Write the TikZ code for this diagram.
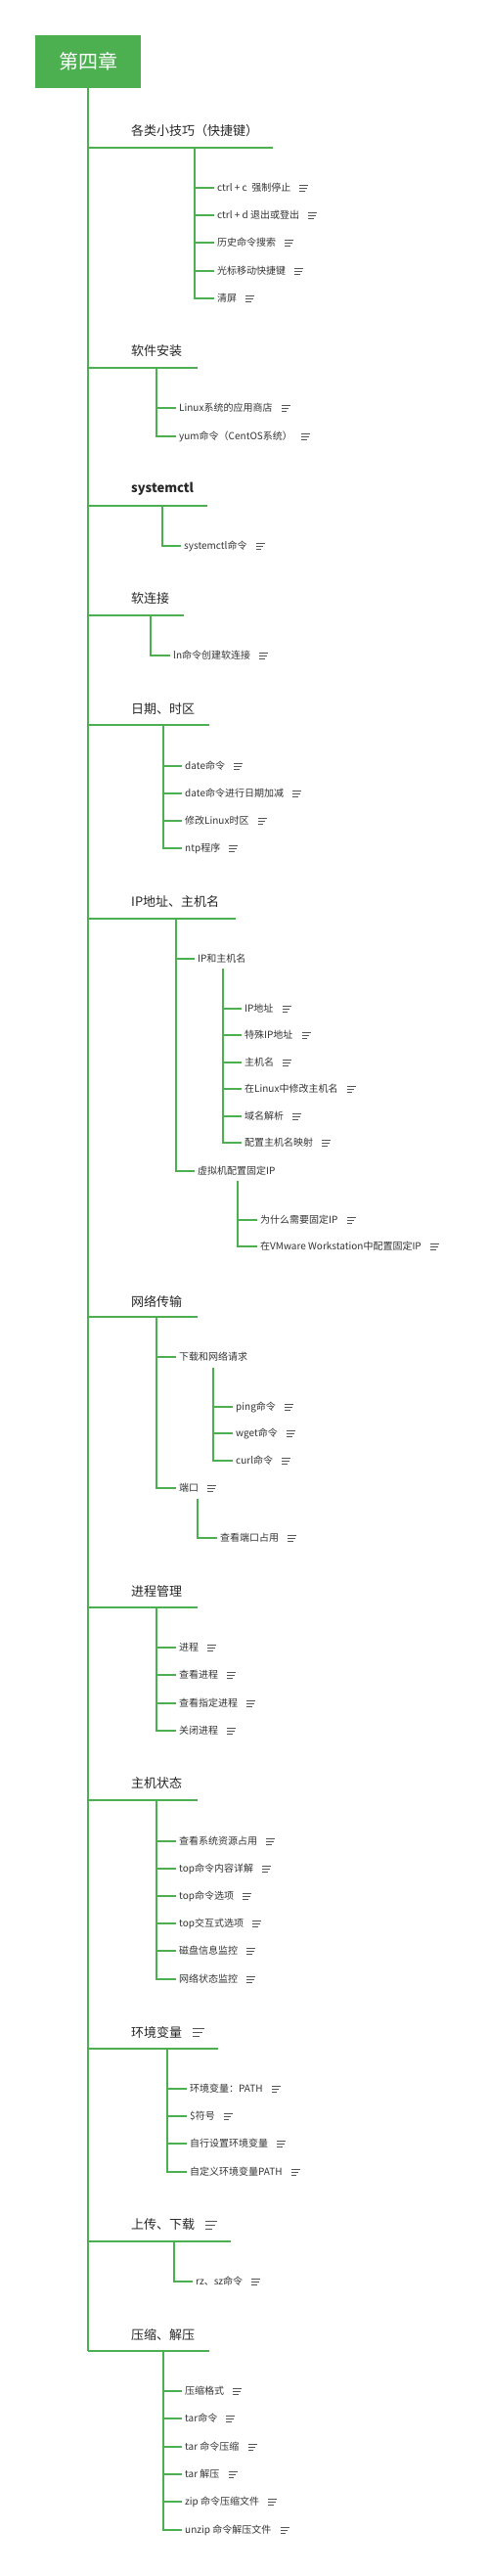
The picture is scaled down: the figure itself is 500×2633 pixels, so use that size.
\documentclass[tikz,border=0pt]{standalone}
\usepackage{fontspec}
\setmainfont{Noto Sans CJK SC}
\usepackage{xcolor}
\usepackage{tikz}
\usetikzlibrary{positioning,calc}

\definecolor{mapgreen}{RGB}{76,175,80}
\definecolor{ink}{RGB}{51,51,51}
\definecolor{iconink}{RGB}{85,85,85}

\tikzset{
    root/.style={fill=mapgreen, text=white, minimum width=108pt, minimum height=54pt, inner sep=0pt, font=\fontsize{20}{24}\selectfont},
    topic/.style={anchor=west, inner sep=3pt, text=black!85, font=\fontsize{13}{15}\selectfont},
    leaf/.style={anchor=west, inner sep=3pt, text=ink, font=\fontsize{10}{12}\selectfont},
    trunk/.style={draw=mapgreen, line width=2pt},
    twig/.style={draw=mapgreen, line width=1.2pt},
    memoline/.style={draw=iconink, line width=0.8pt}
}

% note icon behind a node
\newcommand{\memo}[2][1]{%
    \draw[memoline] ([xshift=6pt*#1,yshift=3pt*#1]#2.east) -- ++(9*#1,0)
        ([xshift=6pt*#1]#2.east) -- ++(7.5*#1,0)
        ([xshift=6pt*#1,yshift=-3pt*#1]#2.east) -- ++(5.5*#1,0);}

\begin{document}
\begin{tikzpicture}[x=1pt,y=-1pt]
    \useasboundingbox (0,0) rectangle (500,2633);

    \node[root] (root) at (90,63) {第四章};
    \coordinate (b12) at (90,2403);
    \draw[trunk] (root.south) -- (b12);

    % 各类小技巧
    \node[topic] (t1) at (131,134) {各类小技巧（快捷键）};
    \coordinate (b1) at (90,151);
    \coordinate (g1) at (199,151);
    \draw[trunk] (b1) -- ++(189,0);
    \foreach \y/\t in {192/{ctrl + c\ \ 强制停止}, 220/{ctrl + d 退出或登出}, 248/历史命令搜索, 277/光标移动快捷键, 305/清屏}{
        \node[leaf] (a\y) at (219,\y) {\t};
        \memo{a\y}
        \draw[twig] (g1) |- (a\y.west);
    }

    % 软件安装
    \node[topic] (t2) at (131,359) {软件安装};
    \coordinate (b2) at (90,376);
    \coordinate (g2) at (160,376);
    \draw[trunk] (b2) -- ++(112,0);
    \foreach \y/\t in {417/Linux系统的应用商店, 446/yum命令（CentOS系统）}{
        \node[leaf] (a\y) at (180,\y) {\t};
        \memo{a\y}
        \draw[twig] (g2) |- (a\y.west);
    }

    % systemctl
    \node[topic, font=\fontsize{13}{15}\selectfont\bfseries] (t3) at (131,500) {systemctl};
    \coordinate (b3) at (90,517);
    \coordinate (g3) at (166,517);
    \draw[trunk] (b3) -- ++(122,0);
    \node[leaf] (a558) at (185,558) {systemctl命令};
    \memo{a558}
    \draw[twig] (g3) |- (a558.west);

    % 软连接
    \node[topic] (t4) at (131,612) {软连接};
    \coordinate (b4) at (90,629);
    \coordinate (g4) at (154,629);
    \draw[trunk] (b4) -- ++(98,0);
    \node[leaf] (a670) at (174,670) {ln命令创建软连接};
    \memo{a670}
    \draw[twig] (g4) |- (a670.west);

    % 日期、时区
    \node[topic] (t5) at (131,725) {日期、时区};
    \coordinate (b5) at (90,741);
    \coordinate (g5) at (167,741);
    \draw[trunk] (b5) -- ++(124,0);
    \foreach \y/\t in {783/date命令, 811/date命令进行日期加减, 839/修改Linux时区, 867/ntp程序}{
        \node[leaf] (a\y) at (186,\y) {\t};
        \memo{a\y}
        \draw[twig] (g5) |- (a\y.west);
    }

    % IP地址、主机名
    \node[topic] (t6) at (131,922) {IP地址、主机名};
    \coordinate (b6) at (90,939);
    \coordinate (g6) at (180,939);
    \draw[trunk] (b6) -- ++(151,0);
    \node[leaf] (ipn) at (199,980) {IP和主机名};
    \node[leaf] (vmip) at (199,1197) {虚拟机配置固定IP};
    \draw[twig] (g6) |- (ipn.west);
    \draw[twig] (g6) |- (vmip.west);
    \coordinate (g61) at (228,990);
    \foreach \y/\t in {1031/IP地址, 1058/特殊IP地址, 1086/主机名, 1113/在Linux中修改主机名, 1141/域名解析, 1168/配置主机名映射}{
        \node[leaf] (a\y) at (247,\y) {\t};
        \memo{a\y}
        \draw[twig] (g61) |- (a\y.west);
    }
    \coordinate (g62) at (243,1207);
    \foreach \y/\t in {1247/为什么需要固定IP, 1274/在VMware Workstation中配置固定IP}{
        \node[leaf] (a\y) at (263,\y) {\t};
        \memo{a\y}
        \draw[twig] (g62) |- (a\y.west);
    }

    % 网络传输
    \node[topic] (t7) at (131,1330) {网络传输};
    \coordinate (b7) at (90,1346);
    \coordinate (g7) at (160,1346);
    \draw[trunk] (b7) -- ++(112,0);
    \node[leaf] (dl) at (180,1387) {下载和网络请求};
    \node[leaf] (port) at (180,1521) {端口};
    \memo{port}
    \draw[twig] (g7) |- (dl.west);
    \draw[twig] (g7) |- (port.west);
    \coordinate (g71) at (218,1398);
    \foreach \y/\t in {1438/ping命令, 1465/wget命令, 1493/curl命令}{
        \node[leaf] (a\y) at (238,\y) {\t};
        \memo{a\y}
        \draw[twig] (g71) |- (a\y.west);
    }
    \coordinate (g72) at (202,1532);
    \node[leaf] (a1572) at (222,1572) {查看端口占用};
    \memo{a1572}
    \draw[twig] (g72) |- (a1572.west);

    % 进程管理
    \node[topic] (t8) at (131,1627) {进程管理};
    \coordinate (b8) at (90,1643);
    \coordinate (g8) at (160,1643);
    \draw[trunk] (b8) -- ++(112,0);
    \foreach \y/\t in {1684/进程, 1712/查看进程, 1741/查看指定进程, 1769/关闭进程}{
        \node[leaf] (a\y) at (180,\y) {\t};
        \memo{a\y}
        \draw[twig] (g8) |- (a\y.west);
    }

    % 主机状态
    \node[topic] (t9) at (131,1823) {主机状态};
    \coordinate (b9) at (90,1840);
    \coordinate (g9) at (160,1840);
    \draw[trunk] (b9) -- ++(112,0);
    \foreach \y/\t in {1882/查看系统资源占用, 1910/top命令内容详解, 1938/top命令选项, 1966/top交互式选项, 1994/磁盘信息监控, 2023/网络状态监控}{
        \node[leaf] (a\y) at (180,\y) {\t};
        \memo{a\y}
        \draw[twig] (g9) |- (a\y.west);
    }

    % 环境变量
    \node[topic] (t10) at (131,2077) {环境变量};
    \memo[1.3]{t10}
    \coordinate (b10) at (90,2094);
    \coordinate (g10) at (171,2094);
    \draw[trunk] (b10) -- ++(133,0);
    \foreach \y/\t in {2135/环境变量：PATH, 2163/\$符号, 2191/自行设置环境变量, 2220/自定义环境变量PATH}{
        \node[leaf] (a\y) at (191,\y) {\t};
        \memo{a\y}
        \draw[twig] (g10) |- (a\y.west);
    }

    % 上传、下载
    \node[topic] (t11) at (131,2274) {上传、下载};
    \memo[1.3]{t11}
    \coordinate (b11) at (90,2291);
    \coordinate (g11) at (178,2291);
    \draw[trunk] (b11) -- ++(146,0);
    \node[leaf] (a2332) at (197,2332) {rz、sz命令};
    \memo{a2332}
    \draw[twig] (g11) |- (a2332.west);

    % 压缩、解压
    \node[topic] (t12) at (131,2387) {压缩、解压};
    \coordinate (g12) at (167,2403);
    \draw[trunk] (b12) -- ++(124,0);
    \foreach \y/\t in {2444/压缩格式, 2472/tar命令, 2501/tar 命令压缩, 2529/tar 解压, 2557/zip 命令压缩文件, 2586/unzip 命令解压文件}{
        \node[leaf] (a\y) at (186,\y) {\t};
        \memo{a\y}
        \draw[twig] (g12) |- (a\y.west);
    }
\end{tikzpicture}
\end{document}
